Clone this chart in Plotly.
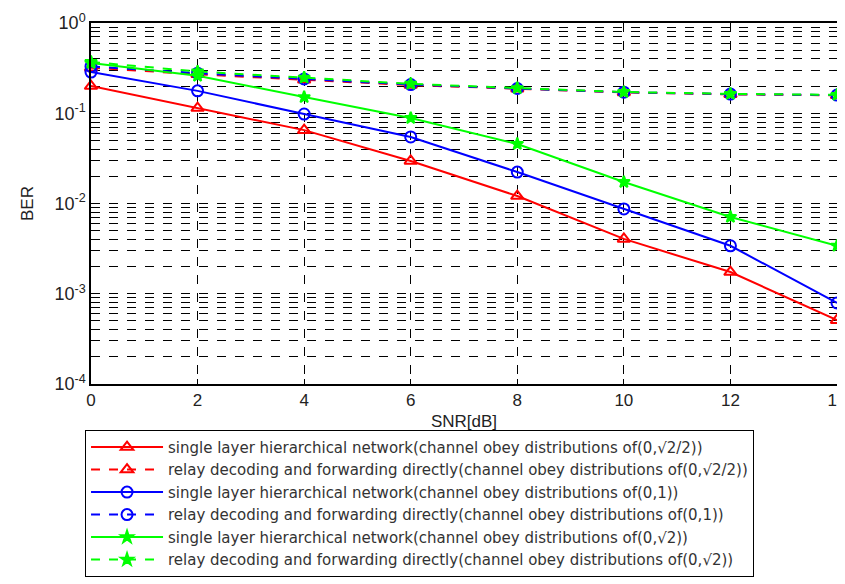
import plotly.graph_objects as go

snr = [0, 2, 4, 6, 8, 10, 12, 14]

ber_single_a = [0.20, 0.114, 0.065, 0.0296, 0.0121, 0.00405, 0.00174, 0.00051]
ber_relay_a = [0.32, 0.27, 0.235, 0.205, 0.187, 0.170, 0.162, 0.158]
ber_single_b = [0.286, 0.177, 0.098, 0.0546, 0.0223, 0.0087, 0.0034, 0.00079]
ber_relay_b = [0.33, 0.278, 0.24, 0.208, 0.188, 0.171, 0.163, 0.159]
ber_single_c = [0.36, 0.26, 0.151, 0.0886, 0.0457, 0.0173, 0.0071, 0.0034]
ber_relay_c = [0.37, 0.29, 0.248, 0.212, 0.19, 0.172, 0.164, 0.16]

names = [
    "single layer hierarchical network(channel obey distributions of(0,\u221a2/2))",
    "relay decoding and forwarding directly(channel obey distributions of(0,\u221a2/2))",
    "single layer hierarchical network(channel obey distributions of(0,1))",
    "relay decoding and forwarding directly(channel obey distributions of(0,1))",
    "single layer hierarchical network(channel obey distributions of(0,\u221a2))",
    "relay decoding and forwarding directly(channel obey distributions of(0,\u221a2))",
]

y_tickvals = [1e-4, 1e-3, 1e-2, 1e-1, 1]
y_ticktext = ["10<sup>-4</sup>", "10<sup>-3</sup>", "10<sup>-2</sup>", "10<sup>-1</sup>", "10<sup>0</sup>"]
x_tickvals = [0, 2, 4, 6, 8, 10, 12, 14]

series = [
    (ber_single_a, "#ff0000", "solid", "triangle-up-open", 11),
    (ber_relay_a, "#ff0000", "dash", "triangle-up-open", 11),
    (ber_single_b, "#0000ff", "solid", "circle-open", 11),
    (ber_relay_b, "#0000ff", "dash", "circle-open", 11),
    (ber_single_c, "#00ff00", "solid", "star", 9),
    (ber_relay_c, "#00ff00", "dash", "star", 9),
]

fig = go.Figure()
for (vals, color, dash, sym, sz), name in zip(series, names):
    fig.add_trace(go.Scatter(
        x=snr, y=vals, name=name, mode="lines+markers",
        line=dict(color=color, width=2, dash=dash),
        marker=dict(symbol=sym, size=sz, color=color, line=dict(color=color, width=2)),
        cliponaxis=False,
    ))

# the page body has an 8px margin, so the figure is offset by 8px
fig.update_layout(
    width=837, height=596,
    margin=dict(l=83, r=8, t=15, b=220),
    paper_bgcolor="white", plot_bgcolor="white",
    font=dict(family="Liberation Sans, Arial", size=15, color="#222"),
    showlegend=True,
    legend=dict(
        x=-0.008, y=-0.127, xanchor="left", yanchor="top",
        bordercolor="black", borderwidth=1, bgcolor="white",
        font=dict(family="DejaVu Sans", size=15, color="#333"), itemwidth=72,
        tracegroupgap=0,
    ),
    xaxis=dict(
        range=[0, 14], tickvals=x_tickvals, showgrid=True, automargin=False,
        gridcolor="black", griddash="dash", gridwidth=1,
        showline=True, linecolor="black", linewidth=1.5, mirror=True,
        ticks="inside", ticklen=5, tickcolor="black", ticklabeloverflow="allow",
        tickfont=dict(size=17, color="#222"),
        title=dict(text="SNR[dB]", font=dict(size=17, color="#222"), standoff=6),
        zeroline=False,
    ),
    yaxis=dict(
        type="log", range=[-4, 0], tickvals=y_tickvals, ticktext=y_ticktext,
        showgrid=True, gridcolor="black", griddash="dash", gridwidth=1, automargin=False,
        showline=True, linecolor="black", linewidth=1.5, mirror=True,
        ticks="inside", ticklen=5, tickcolor="black",
        tickfont=dict(size=18, color="#222"),
        title=dict(text="BER", font=dict(size=17, color="#222"), standoff=16),
        minor=dict(showgrid=True, gridcolor="black", griddash="dash", gridwidth=1,
                   dtick="D1", ticks=""),
        zeroline=False,
    ),
)

fig.write_html("out.html")
